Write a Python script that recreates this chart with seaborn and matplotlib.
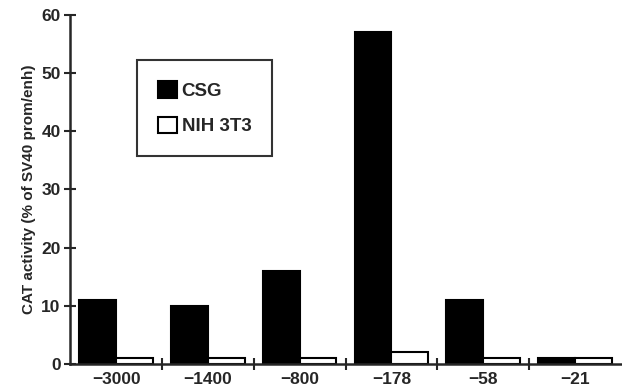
import pandas as pd
import numpy as np
import matplotlib
matplotlib.use('Agg')
import matplotlib.pyplot as plt
import seaborn as sns

# data
constructs = ['-3000', '-1400', '-800', '-178', '-58', '-21']
csg = [11, 10, 16, 57, 11, 1]
nih3t3 = [1, 1, 1, 2, 1, 1]

df = pd.DataFrame({
    'construct': constructs * 2,
    'activity': csg + nih3t3,
    'cell': ['CSG'] * len(csg) + ['NIH 3T3'] * len(nih3t3),
})

sns.set_style('ticks')
plt.rcParams['font.family'] = ['Liberation Sans', 'DejaVu Sans']

fig = plt.figure(figsize=(6.22, 3.91), dpi=100)
ax = fig.add_axes([0.113, 0.069, 0.885, 0.893])

sns.barplot(data=df, x='construct', y='activity', hue='cell',
            palette={'CSG': 'black', 'NIH 3T3': 'white'},
            edgecolor='black', linewidth=1.5, width=0.8, gap=0,
            saturation=1, ax=ax)

ax.set_xlim(-0.5, 5.5)
ax.set_ylim(0, 60)
ax.set_yticks([0, 10, 20, 30, 40, 50, 60])
ax.set_xticks(range(len(constructs)))
ax.set_xticklabels(['\u2212' + c[1:] for c in constructs],
                   fontsize=12.5, fontweight='bold')
ax.set_xticks(np.arange(0.5, 5.0, 1.0), minor=True)
ax.tick_params(axis='x', which='major', length=0, pad=6)
ax.tick_params(axis='x', which='minor', length=8, width=1.5, direction='inout')
ax.tick_params(axis='y', length=8, width=1.5, direction='inout',
               labelsize=12.5, pad=3)
for lab in ax.get_yticklabels():
    lab.set_fontweight('bold')

ax.set_xlabel('')
ax.set_ylabel('CAT activity (% of SV40 prom/enh)', fontsize=11,
              fontweight='bold', labelpad=4)

for side in ['top', 'right']:
    ax.spines[side].set_visible(False)
ax.spines['left'].set_linewidth(1.8)
ax.spines['bottom'].set_linewidth(1.8)

leg = ax.legend(loc='upper left', bbox_to_anchor=(0.122, 0.87),
                frameon=True, fancybox=False, edgecolor='black',
                fontsize=13.5, handlelength=1.0, handleheight=1.0,
                handletextpad=0.25, borderpad=1.1, labelspacing=0.9,
                borderaxespad=0)
leg.get_frame().set_linewidth(1.5)
for t in leg.get_texts():
    t.set_fontweight('bold')

fig.savefig('out.png', dpi=100)
